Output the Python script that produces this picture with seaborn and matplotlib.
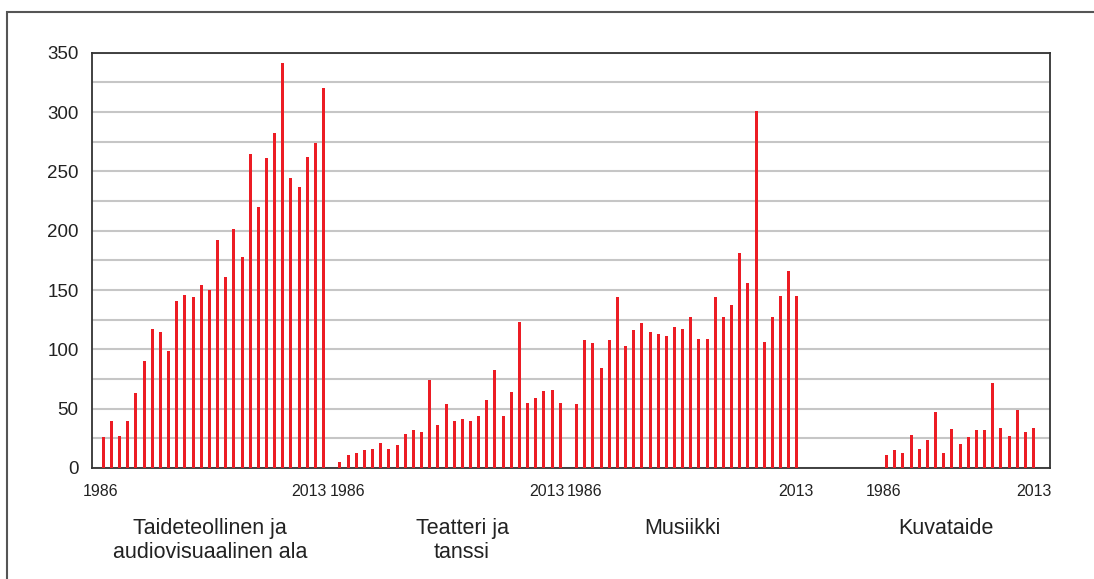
import matplotlib
matplotlib.use("Agg")
import matplotlib.pyplot as plt
import seaborn as sns
import pandas as pd
from matplotlib.ticker import MultipleLocator
from matplotlib.transforms import blended_transform_factory
from matplotlib.patches import Rectangle

# ---------------- data ----------------
years = list(range(1986, 2014))
taide = [26, 40, 27, 40, 63, 90, 117, 115, 99, 141, 146, 144, 154, 150, 192, 161,
         201, 178, 265, 220, 261, 282, 341, 244, 237, 262, 274, 320]
teatteri = [5, 11, 13, 15, 16, 21, 16, 19, 29, 32, 30, 74, 36, 54, 40, 41,
            40, 44, 57, 83, 44, 64, 123, 55, 59, 65, 66, 55]
musiikki = [54, 108, 105, 84, 108, 144, 103, 116, 122, 115, 113, 111, 119, 117, 127, 109,
            109, 144, 127, 137, 181, 156, 301, 106, 127, 145, 166, 145]
kuvataide_years = list(range(1995, 2014))
kuvataide = [11, 15, 13, 28, 16, 24, 47, 13, 33, 20, 26, 32, 32, 72, 34, 27, 49, 30, 34]

group_names = ["Taideteollinen ja\naudiovisuaalinen ala", "Teatteri ja\ntanssi",
               "Musiikki", "Kuvataide"]
year_labels = ["1986", "2013", "1986", "2013", "1986", "2013", "1986", "2013"]

# ---------------- build long table ----------------
slots_per_group = len(years) + 1  # one empty slot between groups
rows = []
for gi, (yrs, vals) in enumerate([(years, taide), (years, teatteri), (years, musiikki),
                                  (kuvataide_years, kuvataide)]):
    for y, v in zip(yrs, vals):
        rows.append({"pos": gi * slots_per_group + (y - 1986), "value": v, "group": gi})
df = pd.DataFrame(rows)

# ---------------- figure ----------------
sns.set_style("white")
plt.rcParams["font.family"] = ["Liberation Sans", "DejaVu Sans"]

W, H = 1094, 579
fig = plt.figure(figsize=(W / 100, H / 100), dpi=100)
ax = fig.add_axes([91.7 / W, 1 - 468 / H, (1050.3 - 91.7) / W, (468 - 52.7) / H])

sns.barplot(data=df, x="pos", y="value", native_scale=True, width=0.37,
            color="#EC1C24", saturation=1, errorbar=None, ax=ax, zorder=3,
            linewidth=0, edgecolor="none")

slot_px = 8.16
ax.set_xlim((91.7 - 103.3) / slot_px, (1050.3 - 103.3) / slot_px)
ax.set_ylim(0, 350)
ax.yaxis.set_major_locator(MultipleLocator(50))
ax.yaxis.set_minor_locator(MultipleLocator(25))
ax.grid(axis="y", which="both", color="#c6c6c6", lw=1.5, zorder=0)
ax.grid(axis="x", visible=False)
ax.set_axisbelow(True)
for s in ax.spines.values():
    s.set_visible(True)
    s.set_color("#333333")
    s.set_linewidth(1.3)

# year tick labels at first/last bar of each group (with the reference's small shifts)
first_last = []
for gi in range(4):
    sub = df[df.group == gi]
    first_last += [sub.pos.min(), sub.pos.max()]
label_shift = [-0.37, -1.8, 0.9, -1.6, 1.0, -0.15, -0.4, 0.07]
ax.set_xticks([p + d for p, d in zip(first_last, label_shift)])
ax.set_xticklabels(year_labels, fontsize=11.5, color="#222222")
ax.tick_params(axis="x", length=0, pad=11.5)
ax.tick_params(axis="y", which="both", length=0, pad=9.5, labelsize=13.5, labelcolor="#222222")
ax.set_xlabel("")
ax.set_ylabel("")

# group labels
tr = blended_transform_factory(ax.transData, fig.transFigure)
group_centers = [13.1, 43.96, 71.0, 103.3]
for name, cx in zip(group_names, group_centers):
    ax.text(cx, 1 - 518 / H, name, transform=tr, ha="center", va="top",
            fontsize=15.5, linespacing=1.2, color="#222222")

# outer frame
fig.add_artist(Rectangle((6.7 / W, -0.2), 1.2, (H - 12.3) / H + 0.2,
                         transform=fig.transFigure, fill=False, ec="#555555", lw=1.5))

fig.savefig("out.png", dpi=100)
